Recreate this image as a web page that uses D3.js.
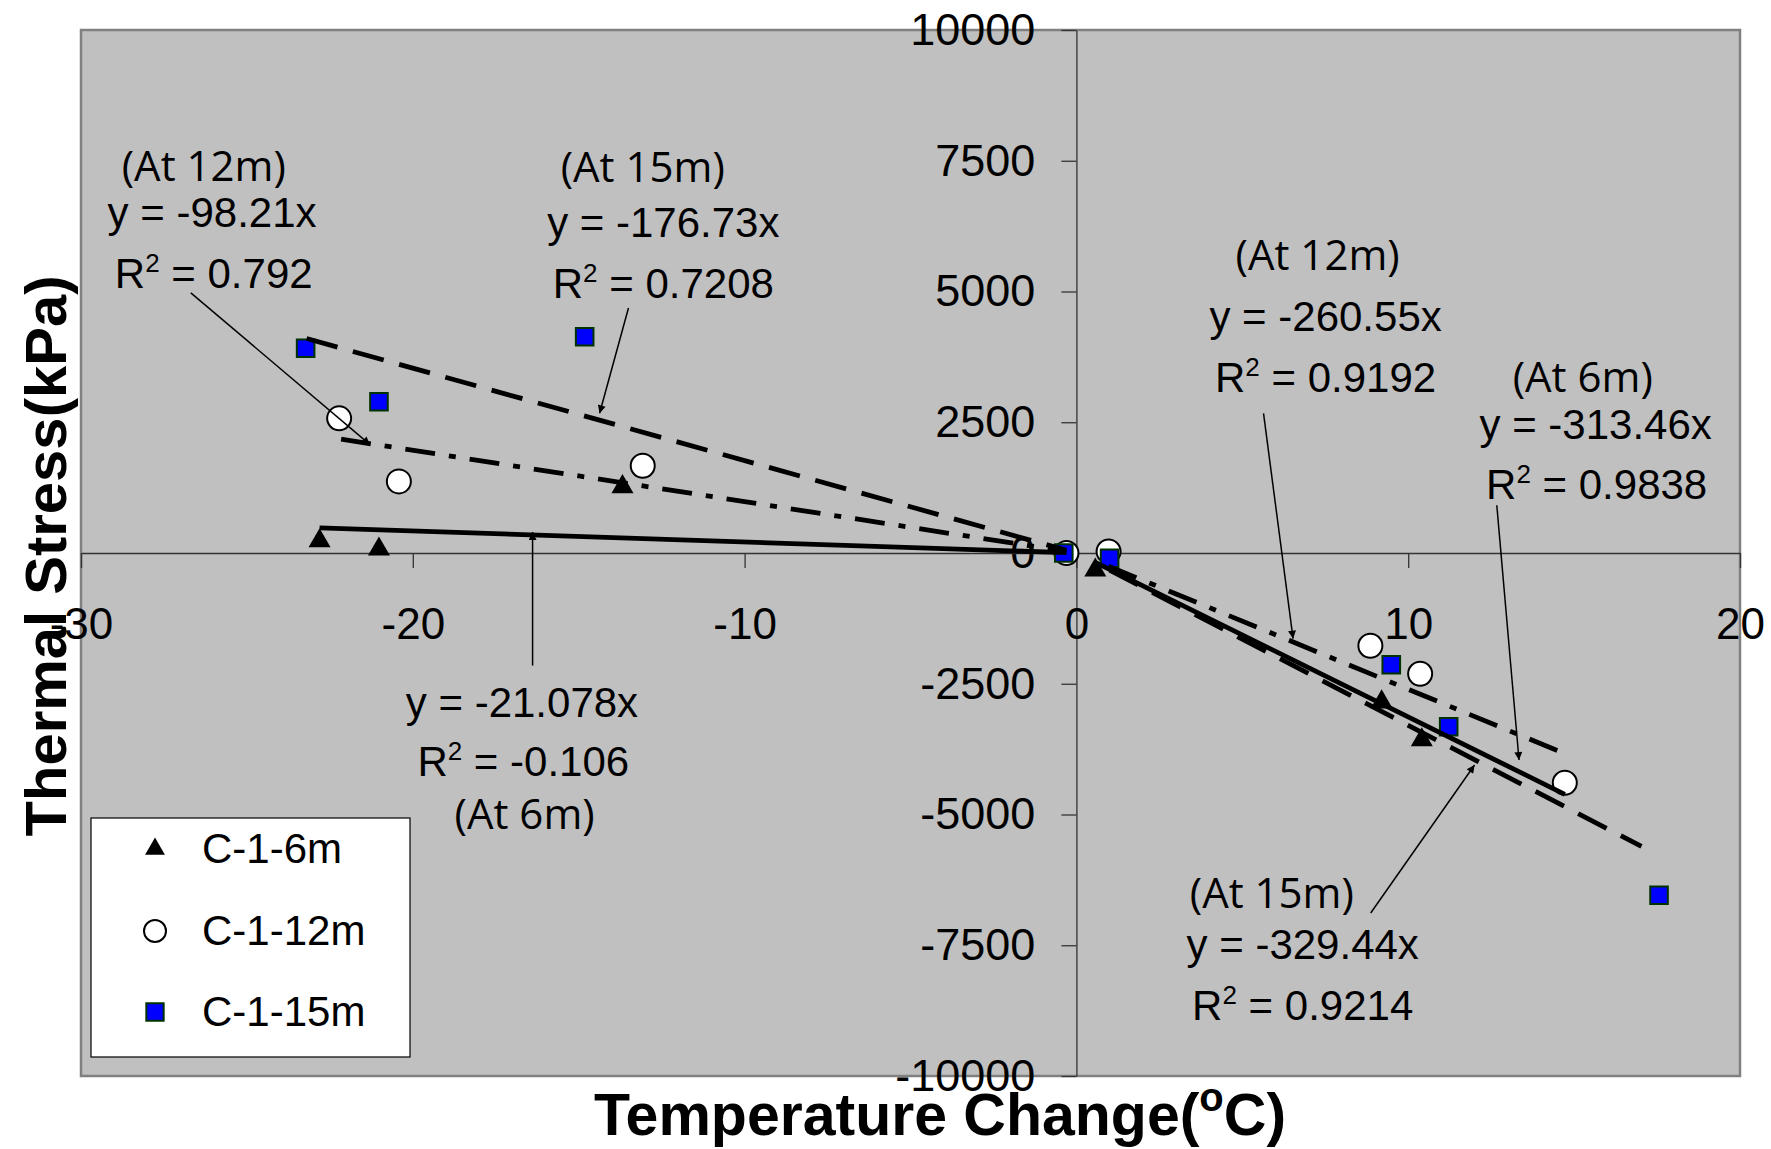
<!DOCTYPE html>
<html>
<head>
<meta charset="utf-8">
<script src="https://cdn.jsdelivr.net/npm/d3@7"></script>
<style>
  body { margin: 0; background: #fff; }
  svg text { font-family: "Liberation Sans", Arial, sans-serif; fill: #000; }
</style>
</head>
<body>
<div class="scatter"></div>
<script>
var svgWidth = 1771;
var svgHeight = 1149;

// series data (temperature change, thermal stress)
var x6m = [-22.81, -21.02, -13.68, 0.57, 9.2, 10.41];
var y6m = [230, 73, 1266, -330, -2850, -3575];

var x12m = [-22.22, -20.42, -13.07, -0.3, 0.97, 8.86, 10.36, 14.72];
var y12m = [2575, 1369, 1669, 0, 30, -1773, -2310, -4392];

var x15m = [-23.23, -21.02, -14.82, -0.38, 1.0, 9.49, 11.22, 17.56];
var y15m = [3914, 2891, 4134, 0, -100, -2136, -3323, -6545];

// trendlines y = slope * x, drawn over [from, to]
var trendNames = ["6m-neg", "12m-neg", "15m-neg", "6m-pos", "12m-pos", "15m-pos"];
var trendSlopes = [-21.078, -98.21, -176.73, -313.46, -260.55, -329.44];
var trendFrom = [-22.81, -22.16, -23.2, 0.57, 0.97, 1.0];
var trendTo = [-0.3, -0.3, -0.3, 14.72, 14.69, 17.03];
var trendDash = ["", "30,14,7,14", "32,16", "", "30,14,7,14", "32,16"];

var xTicks = [-30, -20, -10, 0, 10, 20];
var yTicks = [-10000, -7500, -5000, -2500, 0, 2500, 5000, 7500, 10000];

// annotation labels (data coords of centre / baseline)
var noteText = [
  "(At 12m)", "y = -98.21x", "R2| = 0.792",
  "(At 15m)", "y = -176.73x", "R2| = 0.7208",
  "y = -21.078x", "R2| = -0.106", "(At 6m)",
  "(At 12m)", "y = -260.55x", "R2| = 0.9192",
  "(At 6m)", "y = -313.46x", "R2| = 0.9838",
  "(At 15m)", "y = -329.44x", "R2| = 0.9214"
];
var noteX = [-26.3, -26.05, -26.0, -13.07, -12.45, -12.45, -16.71, -16.67, -16.63,
  7.27, 7.51, 7.51, 15.26, 15.65, 15.68, 5.89, 6.82, 6.82];
var noteY = [7120, 6233, 5071, 7098, 6042, 4881, -3141, -4273, -5277,
  5415, 4245, 3073, 3073, 2174, 1025, -6782, -7771, -8920];

// arrows pointing from labels to trendlines
var arrowX1 = [-26.69, -13.5, -16.39, 5.64, 12.67, 8.87];
var arrowY1 = [4975, 4684, -2153, 2671, 914, -6883];
var arrowX2 = [-21.29, -14.37, -16.39, 6.53, 13.34, 12.0];
var arrowY2 = [2071, 2671, 402, -1639, -3958, -4054];

var legendNames = ["C-1-6m", "C-1-12m", "C-1-15m"];

var plot = { left: 81, right: 1740, top: 30, bottom: 1076 };

var svg = d3.select(".scatter")
  .append("svg")
  .attr("width", svgWidth)
  .attr("height", svgHeight);

var xScale = d3.scaleLinear().domain([-30, 20]).range([plot.left, plot.right]);
var yScale = d3.scaleLinear().domain([-10000, 10000]).range([plot.bottom, plot.top]);

svg.append("defs").append("marker")
  .attr("id", "head")
  .attr("viewBox", "0 0 10 10")
  .attr("refX", 10).attr("refY", 5)
  .attr("markerWidth", 11).attr("markerHeight", 8)
  .attr("markerUnits", "userSpaceOnUse")
  .attr("orient", "auto")
  .append("path").attr("d", "M0,0 L10,5 L0,10 z").attr("fill", "#000");

// plot area
svg.append("rect")
  .attr("x", plot.left).attr("y", plot.top)
  .attr("width", plot.right - plot.left)
  .attr("height", plot.bottom - plot.top)
  .attr("fill", "#c0c0c0")
  .attr("stroke", "#808080")
  .attr("stroke-width", 2.5);

// axes crossing at the origin
var plain = function(d) { return String(d); };
var leftAxis = d3.axisLeft(yScale).tickValues(yTicks).tickFormat(plain)
  .tickSize(15).tickPadding(26).tickSizeOuter(0);
var bottomAxis = d3.axisBottom(xScale).tickValues(xTicks).tickFormat(plain)
  .tickSize(15).tickPadding(40).tickSizeOuter(0);

var yAxisG = svg.append("g")
  .attr("transform", `translate(${xScale(0)}, 0)`)
  .call(leftAxis);
var xAxisG = svg.append("g")
  .attr("transform", `translate(0, ${yScale(0)})`)
  .call(bottomAxis);

[yAxisG, xAxisG].forEach(function(g) {
  g.selectAll("path, line").attr("stroke", "#333").attr("stroke-width", 1.3);
  g.selectAll("text")
    .attr("font-size", "45px")
    .attr("font-family", "'Liberation Sans', Arial, sans-serif")
    .attr("fill", "#000");
});
xAxisG.selectAll("text").attr("font-size", "44px");

// data markers
var triangle = d3.symbol().type(d3.symbolTriangle).size(210);
var square = d3.symbol().type(d3.symbolSquare).size(310);

var pts6 = x6m.map(function(d, i) { return { x: d, y: y6m[i] }; });
var pts12 = x12m.map(function(d, i) { return { x: d, y: y12m[i] }; });
var pts15 = x15m.map(function(d, i) { return { x: d, y: y15m[i] }; });

svg.selectAll(".tri").data(pts6).enter()
  .append("path")
  .attr("class", "tri")
  .attr("d", triangle)
  .attr("transform", d => `translate(${xScale(d.x)}, ${yScale(d.y)})`)
  .attr("fill", "#000");

svg.selectAll(".circ").data(pts12).enter()
  .append("circle")
  .attr("class", "circ")
  .attr("cx", d => xScale(d.x))
  .attr("cy", d => yScale(d.y))
  .attr("r", 12)
  .attr("fill", "#fff")
  .attr("stroke", "#000")
  .attr("stroke-width", 2);

svg.selectAll(".sq").data(pts15).enter()
  .append("path")
  .attr("class", "sq")
  .attr("d", square)
  .attr("transform", d => `translate(${xScale(d.x)}, ${yScale(d.y)})`)
  .attr("fill", "#0000ff")
  .attr("stroke", "#003300")
  .attr("stroke-width", 2);

// trendlines
var trendData = trendNames.map(function(n, i) {
  return {
    name: n,
    dash: trendDash[i],
    pts: [[trendFrom[i], trendSlopes[i] * trendFrom[i]], [trendTo[i], trendSlopes[i] * trendTo[i]]]
  };
});
var lineGen = d3.line().x(d => xScale(d[0])).y(d => yScale(d[1]));

svg.selectAll(".trend").data(trendData).enter()
  .append("path")
  .attr("class", "trend")
  .attr("d", d => lineGen(d.pts))
  .attr("fill", "none")
  .attr("stroke", "#000")
  .attr("stroke-width", 4.8)
  .attr("stroke-dasharray", d => d.dash || null);

// arrows
svg.selectAll(".arrow").data(arrowX1).enter()
  .append("line")
  .attr("class", "arrow")
  .attr("x1", (d, i) => xScale(d))
  .attr("y1", (d, i) => yScale(arrowY1[i]))
  .attr("x2", (d, i) => xScale(arrowX2[i]))
  .attr("y2", (d, i) => yScale(arrowY2[i]))
  .attr("stroke", "#000")
  .attr("stroke-width", 1.5)
  .attr("marker-end", "url(#head)");

// equation labels
var notes = svg.selectAll(".note").data(noteText).enter()
  .append("text")
  .attr("class", "note")
  .attr("x", (d, i) => xScale(noteX[i]))
  .attr("y", (d, i) => yScale(noteY[i]))
  .attr("text-anchor", "middle")
  .attr("font-size", "42px");

notes.each(function(d) {
  var t = d3.select(this);
  if (d.indexOf("(At") === 0) {
    t.style("font-family", "'Open Sans', 'Noto Sans', sans-serif").text(d);
  } else if (d.indexOf("|") > 0) {
    var parts = d.split("|");
    t.append("tspan").text("R");
    t.append("tspan").attr("font-size", "26px").attr("dy", "-16").text("2");
    t.append("tspan").attr("dy", "16").text(parts[1]);
  } else {
    t.text(d);
  }
});

// axis titles
svg.append("text")
  .attr("x", 940)
  .attr("y", 1135)
  .attr("text-anchor", "middle")
  .attr("font-size", "59px")
  .attr("font-weight", "bold")
  .call(function(t) {
    t.append("tspan").text("Temperature Change(");
    t.append("tspan").attr("font-size", "40px").attr("dy", "-24").text("o");
    t.append("tspan").attr("dy", "24").text("C)");
  });

svg.append("text")
  .attr("transform", "translate(66, 556) rotate(-90)")
  .attr("text-anchor", "middle")
  .attr("font-size", "58px")
  .attr("font-weight", "bold")
  .text("Thermal Stress(kPa)");

// legend
var legend = svg.append("g").attr("transform", "translate(91, 818)");
legend.append("rect")
  .attr("width", 319).attr("height", 239)
  .attr("fill", "#fff")
  .attr("stroke", "#000")
  .attr("stroke-width", 1.2);

var rowY = [31, 113, 194];
legend.append("path")
  .attr("d", d3.symbol().type(d3.symbolTriangle).size(170))
  .attr("transform", `translate(64, ${rowY[0]})`)
  .attr("fill", "#000");
legend.append("circle")
  .attr("cx", 64).attr("cy", rowY[1]).attr("r", 11)
  .attr("fill", "#fff").attr("stroke", "#000").attr("stroke-width", 2);
legend.append("path")
  .attr("d", d3.symbol().type(d3.symbolSquare).size(300))
  .attr("transform", `translate(64, ${rowY[2]})`)
  .attr("fill", "#0000ff").attr("stroke", "#003300").attr("stroke-width", 2);

legend.selectAll(".lg").data(legendNames).enter()
  .append("text")
  .attr("class", "lg")
  .attr("x", 111)
  .attr("y", (d, i) => rowY[i] + 14)
  .attr("font-size", "42px")
  .text(d => d);
</script>
</body>
</html>
